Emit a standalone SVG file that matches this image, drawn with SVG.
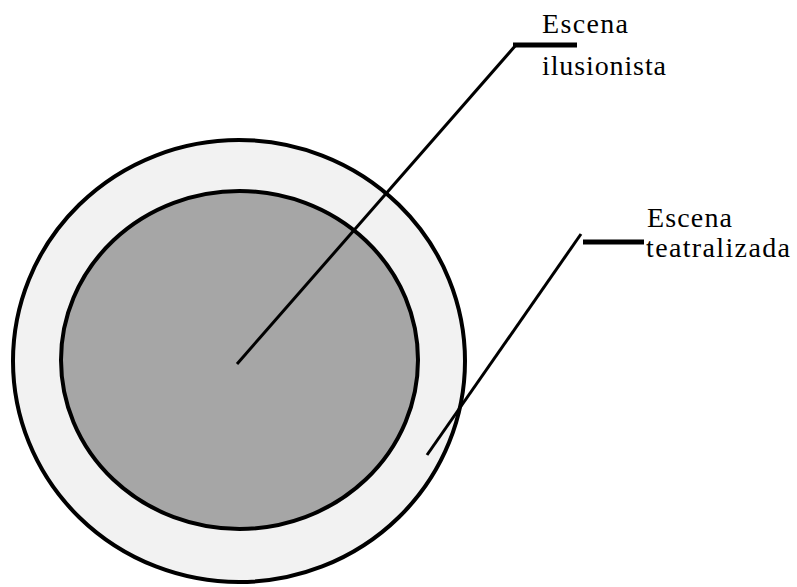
<svg xmlns="http://www.w3.org/2000/svg" width="797" height="587" viewBox="0 0 797 587">
<style>
.ring{stroke:#000;stroke-width:4}
.ln{stroke:#000;stroke-width:3;fill:none}
.bar{stroke:#000;stroke-width:5}
.t{font-family:"Liberation Serif","Times New Roman",serif;font-size:28px;fill:#000}
</style>
<rect width="797" height="587" fill="#fff"/>
<g id="escena-teatralizada">
<ellipse class="ring" cx="239" cy="361" rx="226" ry="221" fill="#f2f2f2"/>
</g>
<g id="escena-ilusionista">
<ellipse class="ring" cx="239.5" cy="360" rx="178.5" ry="169" fill="#a6a6a6"/>
</g>
<g id="connectors">
<line class="ln" x1="237" y1="364" x2="516" y2="45"/>
<line class="bar" x1="513" y1="45" x2="577" y2="45"/>
<line class="ln" x1="427" y1="455" x2="581" y2="234"/>
<line class="bar" x1="583" y1="242" x2="644" y2="242"/>
</g>
<g id="label-ilusionista">
<text class="t" x="542" y="33" textLength="86" lengthAdjust="spacing">Escena</text>
<text class="t" x="542" y="75" textLength="124" lengthAdjust="spacing">ilusionista</text>
</g>
<g id="label-teatralizada">
<text class="t" x="647" y="227" textLength="85" lengthAdjust="spacing">Escena</text>
<text class="t" x="646" y="257" textLength="144" lengthAdjust="spacing">teatralizada</text>
</g>
</svg>
